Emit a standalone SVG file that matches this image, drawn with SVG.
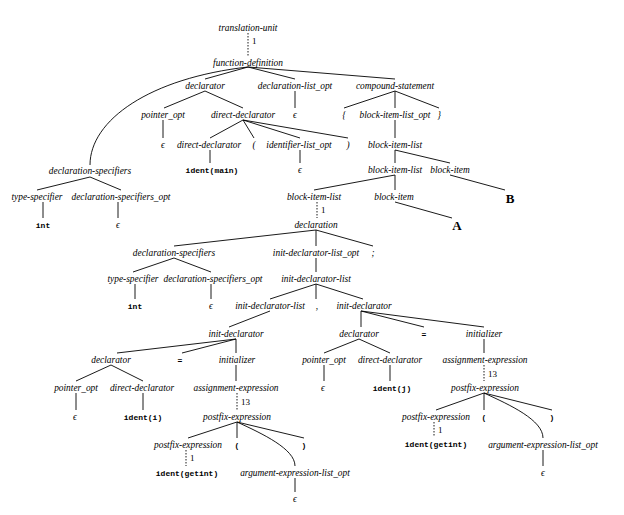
<svg xmlns="http://www.w3.org/2000/svg" width="624" height="515" viewBox="0 0 624 515">
<style>
text{font-family:"Liberation Serif","Times New Roman",serif;font-size:9.4px;text-anchor:middle;fill:#000}
.n{font-style:italic}
.c{font-family:"Liberation Mono","Courier New",monospace;font-size:8px;font-weight:bold}
.l{font-size:9px;text-anchor:start}
.b{font-weight:bold;font-size:13px}
#edges line,#edges path{stroke:#000;stroke-width:0.9;fill:none}
#edges .d{stroke-dasharray:1.5 1.5}
</style>
<rect width="624" height="515" fill="#fff"/>
<g id="edges">
<line class="d" x1="248" y1="33" x2="248" y2="56"/>
<path d="M248,67 C150,78 90,120 90,165"/>
<line x1="248" y1="67" x2="205" y2="79"/>
<line x1="248" y1="67" x2="295" y2="79"/>
<line x1="248" y1="67" x2="395" y2="79"/>
<line x1="205" y1="91" x2="164" y2="108"/>
<line x1="205" y1="91" x2="243" y2="108"/>
<line x1="295" y1="91" x2="295" y2="108"/>
<line x1="395" y1="91" x2="344" y2="108"/>
<line x1="395" y1="91" x2="395" y2="108"/>
<line x1="395" y1="91" x2="439" y2="108"/>
<line x1="163" y1="120" x2="163" y2="138"/>
<line x1="243" y1="120" x2="210" y2="138"/>
<line x1="243" y1="120" x2="254" y2="138"/>
<line x1="243" y1="120" x2="300" y2="138"/>
<line x1="243" y1="120" x2="348" y2="138"/>
<line x1="395" y1="120" x2="395" y2="138"/>
<line x1="210" y1="150" x2="210" y2="163"/>
<line x1="300" y1="150" x2="300" y2="163"/>
<line x1="395" y1="150" x2="395" y2="163"/>
<line x1="395" y1="150" x2="450" y2="163"/>
<line x1="90" y1="177" x2="37" y2="190"/>
<line x1="90" y1="177" x2="121" y2="190"/>
<line x1="395" y1="175" x2="314" y2="190"/>
<line x1="395" y1="175" x2="395" y2="190"/>
<line x1="450" y1="175" x2="505" y2="190"/>
<line x1="43" y1="202" x2="43" y2="218"/>
<line x1="118" y1="202" x2="118" y2="218"/>
<line class="d" x1="317" y1="202" x2="317" y2="218"/>
<line x1="395" y1="202" x2="452" y2="218"/>
<line x1="316" y1="230" x2="174" y2="246"/>
<line x1="316" y1="230" x2="316" y2="246"/>
<line x1="316" y1="230" x2="373" y2="246"/>
<line x1="174" y1="258" x2="133" y2="272"/>
<line x1="174" y1="258" x2="211" y2="272"/>
<line x1="316" y1="258" x2="316" y2="272"/>
<line x1="135" y1="284" x2="135" y2="299"/>
<line x1="211" y1="284" x2="211" y2="299"/>
<line x1="316" y1="284" x2="270" y2="299"/>
<line x1="316" y1="284" x2="316" y2="299"/>
<line x1="316" y1="284" x2="363" y2="299"/>
<line x1="270" y1="311" x2="229" y2="327"/>
<line x1="361" y1="311" x2="361" y2="327"/>
<line x1="361" y1="311" x2="424" y2="327"/>
<line x1="361" y1="311" x2="484" y2="327"/>
<line x1="236" y1="339" x2="117" y2="353"/>
<line x1="236" y1="339" x2="182" y2="353"/>
<line x1="236" y1="339" x2="236" y2="353"/>
<line x1="359" y1="339" x2="324" y2="353"/>
<line x1="359" y1="339" x2="390" y2="353"/>
<line x1="484" y1="339" x2="484" y2="353"/>
<line x1="111" y1="365" x2="76" y2="381"/>
<line x1="111" y1="365" x2="143" y2="381"/>
<line x1="236" y1="365" x2="236" y2="381"/>
<line x1="324" y1="365" x2="324" y2="381"/>
<line x1="390" y1="365" x2="390" y2="381"/>
<line class="d" x1="484" y1="365" x2="484" y2="381"/>
<line x1="76" y1="393" x2="76" y2="410"/>
<line x1="143" y1="393" x2="143" y2="410"/>
<line class="d" x1="237" y1="393" x2="237" y2="410"/>
<line x1="484" y1="393" x2="436" y2="410"/>
<line x1="484" y1="393" x2="484" y2="410"/>
<line x1="484" y1="393" x2="552" y2="410"/>
<path d="M484,393 C510,405 543,420 543,438"/>
<line x1="237" y1="422" x2="188" y2="438"/>
<line x1="237" y1="422" x2="237" y2="438"/>
<line x1="237" y1="422" x2="304" y2="438"/>
<path d="M237,422 C263,434 295,449 295,466"/>
<line class="d" x1="434" y1="422" x2="434" y2="437"/>
<line x1="543" y1="450" x2="543" y2="466"/>
<line class="d" x1="186" y1="450" x2="186" y2="466"/>
<line x1="295" y1="478" x2="295" y2="492"/>
<text class="l" x="252" y="44">1</text>
<text class="l" x="321" y="213">1</text>
<text class="l" x="488" y="377">13</text>
<text class="l" x="241" y="405">13</text>
<text class="l" x="438" y="433">1</text>
<text class="l" x="190" y="461">1</text>
</g>
<g id="n_tu"><text class="n" x="248" y="31">translation-unit</text></g>
<g id="n_fd"><text class="n" x="248" y="66">function-definition</text></g>
<g id="n_decl1"><text class="n" x="205" y="89">declarator</text></g>
<g id="n_dlo"><text class="n" x="295" y="89">declaration-list_opt</text></g>
<g id="n_cs"><text class="n" x="395" y="89">compound-statement</text></g>
<g id="n_po1"><text class="n" x="163" y="118">pointer_opt</text></g>
<g id="n_dd1"><text class="n" x="243" y="118">direct-declarator</text></g>
<g id="n_eps1"><text class="n" x="295" y="118">ϵ</text></g>
<g id="n_lb"><text class="n" x="344" y="118">{</text></g>
<g id="n_bilo"><text class="n" x="395" y="118">block-item-list_opt</text></g>
<g id="n_rb"><text class="n" x="439" y="118">}</text></g>
<g id="n_eps2"><text class="n" x="163" y="148">ϵ</text></g>
<g id="n_dd2"><text class="n" x="209" y="148">direct-declarator</text></g>
<g id="n_lp1"><text class="n" x="254" y="148">(</text></g>
<g id="n_ilo"><text class="n" x="299" y="148">identifier-list_opt</text></g>
<g id="n_rp1"><text class="n" x="348" y="148">)</text></g>
<g id="n_bil1"><text class="n" x="395" y="148">block-item-list</text></g>
<g id="n_main"><text class="c" x="212" y="172.5">ident(main)</text></g>
<g id="n_eps3"><text class="n" x="300" y="173">ϵ</text></g>
<g id="n_ds1"><text class="n" x="90" y="174">declaration-specifiers</text></g>
<g id="n_bil2"><text class="n" x="395" y="173">block-item-list</text></g>
<g id="n_bi1"><text class="n" x="450" y="173">block-item</text></g>
<g id="n_ts1"><text class="n" x="37" y="200">type-specifier</text></g>
<g id="n_dso1"><text class="n" x="121" y="200">declaration-specifiers_opt</text></g>
<g id="n_bil3"><text class="n" x="314" y="200">block-item-list</text></g>
<g id="n_bi2"><text class="n" x="394" y="200">block-item</text></g>
<g id="n_B"><text class="b" x="510" y="203">B</text></g>
<g id="n_int1"><text class="c" x="43" y="227.5">int</text></g>
<g id="n_eps4"><text class="n" x="118" y="228">ϵ</text></g>
<g id="n_decl"><text class="n" x="316" y="228">declaration</text></g>
<g id="n_A"><text class="b" x="457" y="230">A</text></g>
<g id="n_ds2"><text class="n" x="174" y="256">declaration-specifiers</text></g>
<g id="n_idlo"><text class="n" x="316" y="256">init-declarator-list_opt</text></g>
<g id="n_semi"><text class="n" x="373" y="256">;</text></g>
<g id="n_ts2"><text class="n" x="133" y="282">type-specifier</text></g>
<g id="n_dso2"><text class="n" x="213" y="282">declaration-specifiers_opt</text></g>
<g id="n_idl1"><text class="n" x="316" y="282">init-declarator-list</text></g>
<g id="n_int2"><text class="c" x="135" y="308.5">int</text></g>
<g id="n_eps5"><text class="n" x="211" y="309">ϵ</text></g>
<g id="n_idl2"><text class="n" x="270" y="309">init-declarator-list</text></g>
<g id="n_comma"><text class="n" x="317" y="309">,</text></g>
<g id="n_id2"><text class="n" x="364" y="309">init-declarator</text></g>
<g id="n_id1"><text class="n" x="236" y="337">init-declarator</text></g>
<g id="n_decl3"><text class="n" x="359" y="337">declarator</text></g>
<g id="n_eq2"><text class="c" x="424" y="336.5">=</text></g>
<g id="n_init2"><text class="n" x="484" y="337">initializer</text></g>
<g id="n_decl2"><text class="n" x="111" y="363">declarator</text></g>
<g id="n_eq1"><text class="c" x="180" y="362.5">=</text></g>
<g id="n_init1"><text class="n" x="237" y="363">initializer</text></g>
<g id="n_po3"><text class="n" x="324" y="363">pointer_opt</text></g>
<g id="n_dd4"><text class="n" x="390" y="363">direct-declarator</text></g>
<g id="n_ae2"><text class="n" x="485" y="363">assignment-expression</text></g>
<g id="n_po2"><text class="n" x="76" y="391">pointer_opt</text></g>
<g id="n_dd3"><text class="n" x="142" y="391">direct-declarator</text></g>
<g id="n_ae1"><text class="n" x="236" y="391">assignment-expression</text></g>
<g id="n_eps7"><text class="n" x="323" y="391">ϵ</text></g>
<g id="n_j"><text class="c" x="392" y="390.5">ident(j)</text></g>
<g id="n_pe3"><text class="n" x="485" y="391">postfix-expression</text></g>
<g id="n_eps6"><text class="n" x="75" y="420">ϵ</text></g>
<g id="n_i"><text class="c" x="143" y="419.5">ident(i)</text></g>
<g id="n_pe1"><text class="n" x="237" y="420">postfix-expression</text></g>
<g id="n_pe4"><text class="n" x="436" y="420">postfix-expression</text></g>
<g id="n_lp3"><text class="c" x="484" y="419.5">(</text></g>
<g id="n_rp3"><text class="c" x="552" y="419.5">)</text></g>
<g id="n_pe2"><text class="n" x="188" y="448">postfix-expression</text></g>
<g id="n_lp2"><text class="c" x="237" y="447.5">(</text></g>
<g id="n_rp2"><text class="c" x="304" y="447.5">)</text></g>
<g id="n_gi2"><text class="c" x="436" y="446.5">ident(getint)</text></g>
<g id="n_ael2"><text class="n" x="543" y="448">argument-expression-list_opt</text></g>
<g id="n_gi1"><text class="c" x="187" y="475.5">ident(getint)</text></g>
<g id="n_ael1"><text class="n" x="295" y="476">argument-expression-list_opt</text></g>
<g id="n_eps9"><text class="n" x="543" y="476">ϵ</text></g>
<g id="n_eps8"><text class="n" x="295" y="502">ϵ</text></g>
</svg>
